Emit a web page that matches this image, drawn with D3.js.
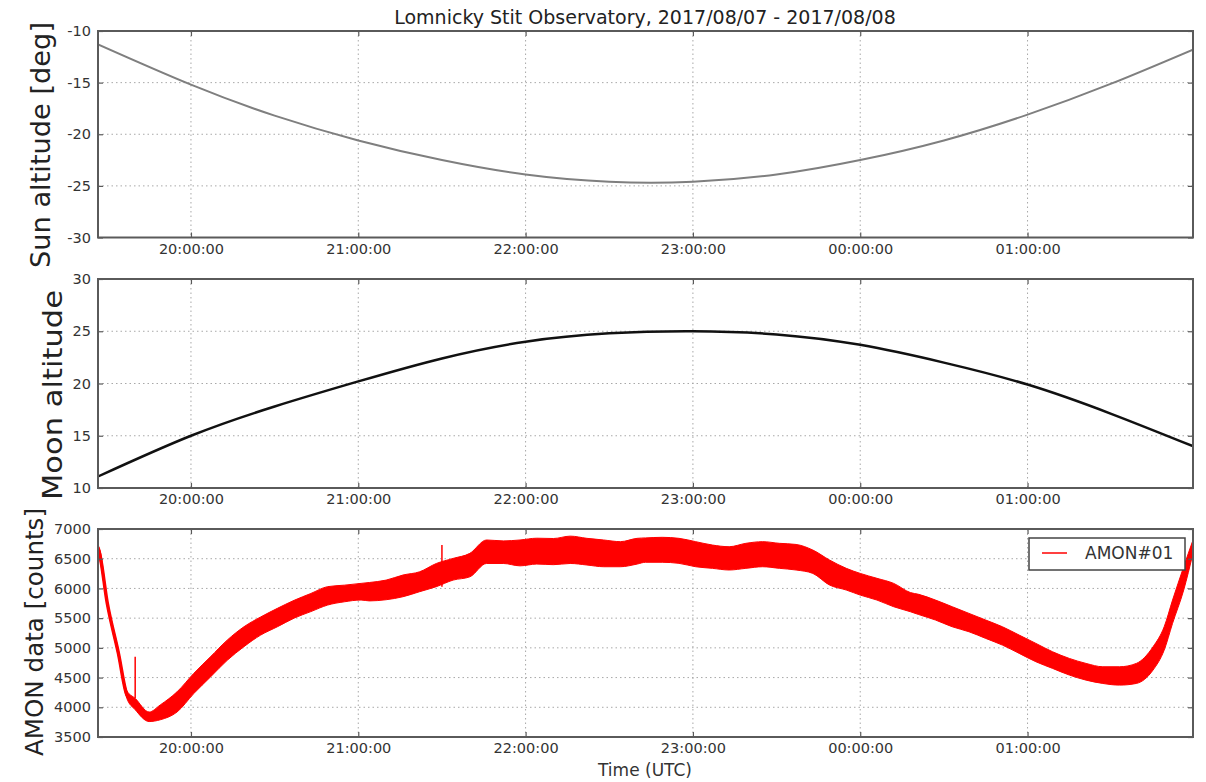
<!DOCTYPE html>
<html>
<head>
<meta charset="utf-8">
<script src="https://cdn.jsdelivr.net/npm/d3@7"></script>
<style>
    body { margin: 0; background: #fff; }
    text { font-family: "DejaVu Sans", sans-serif; }
</style>
</head>
<body>
<div id="chart"></div>
<script>
// time window of the night (UTC), hours < 12 belong to 2017/08/08
var startTime = "19:26:40", endTime = "01:59:20";

// sun and moon altitude
var ephTime = ["19:26:40", "20:00", "20:30", "21:00", "21:30", "22:00", "22:30", "23:00",
               "23:30", "00:00", "00:30", "01:00", "01:30", "01:59:20"];
var sunAlt  = [-11.3, -15.2, -18.2, -20.6, -22.5, -23.9, -24.6, -24.6, -23.9, -22.5, -20.6, -18.1, -15.1, -11.8];
var moonAlt = [11.1, 15.0, 17.8, 20.2, 22.4, 24.0, 24.8, 25.0, 24.7, 23.7, 22.0, 19.9, 17.1, 14.0];

// AMON#01 counts: lower / upper edge of the noisy band
var amonTime = ["19:26:40", "19:27", "19:30", "19:34", "19:37", "19:40", "19:45", "19:49", "19:55",
                "20:01", "20:07", "20:13", "20:19", "20:25", "20:31", "20:37", "20:43", "20:49", "20:55",
                "21:01", "21:04", "21:10", "21:16", "21:22", "21:28", "21:34", "21:40", "21:46", "21:52",
                "21:58", "22:04", "22:10", "22:16", "22:22", "22:28", "22:34", "22:40", "22:43", "22:49",
                "22:55", "23:01", "23:07", "23:13", "23:19", "23:25", "23:31", "23:37", "23:43", "23:49",
                "23:55", "00:00", "00:06", "00:12", "00:18", "00:21", "00:27", "00:33", "00:39", "00:45",
                "00:51", "00:57", "01:03", "01:09", "01:15", "01:21", "01:27", "01:33", "01:39", "01:45",
                "01:49", "01:52", "01:56", "01:59:20"];
var amonLow  = [6600, 6550, 5700, 4850, 4150, 3960, 3760, 3790, 3920,
                4230, 4510, 4790, 5020, 5215, 5355, 5500, 5610, 5720, 5775,
                5805, 5790, 5810, 5860, 5945, 6030, 6140, 6195, 6420, 6420,
                6380, 6410, 6400, 6420, 6394, 6365, 6365, 6410, 6440, 6440,
                6422, 6365, 6338, 6310, 6338, 6365, 6338, 6310, 6253, 6057,
                5973, 5888, 5804, 5692, 5608, 5560, 5468, 5355, 5271, 5159,
                5046, 4907, 4766, 4654, 4542, 4457, 4401, 4373, 4401, 4626,
                4962, 5412, 5973, 6591];
var amonHigh = [6720, 6700, 5800, 4960, 4280, 4150, 3920, 4040, 4260,
                4570, 4850, 5130, 5355, 5520, 5665, 5800, 5915, 6030, 6055,
                6085, 6100, 6140, 6225, 6280, 6420, 6505, 6590, 6815, 6800,
                6815, 6845, 6840, 6880, 6843, 6815, 6787, 6843, 6850, 6860,
                6843, 6787, 6730, 6702, 6759, 6787, 6759, 6740, 6646, 6478,
                6338, 6253, 6170, 6085, 5930, 5900, 5804, 5692, 5580, 5468,
                5355, 5215, 5075, 4934, 4822, 4738, 4682, 4682, 4738, 5018,
                5355, 5804, 6365, 6815];
// single outliers sticking out of the band
var spikeTime  = ["19:40", "21:30"];
var spikeValue = [4850, 6730];

var sunTicks  = [-30, -25, -20, -15, -10];
var moonTicks = [10, 15, 20, 25, 30];
var amonTicks = [3500, 4000, 4500, 5000, 5500, 6000, 6500, 7000];

var width = 1206, height = 782;
var plotLeft = 98, plotRight = 1193;

function parseT(s) {
    var p = s.split(":"), h = +p[0];
    var day = h < 12 ? 8 : 7;
    return new Date(Date.UTC(2017, 7, day, h, +p[1], +(p[2] || 0)));
}

var svg = d3.select("#chart")
    .append("svg")
    .attr("width", width)
    .attr("height", height);

var x = d3.scaleUtc()
    .domain([parseT(startTime), parseT(endTime)])
    .range([plotLeft, plotRight]);

var hourTicks = x.ticks(d3.utcHour.every(1));
var fmtTime = d3.utcFormat("%H:%M:%S");

// one panel: frame, grid, ticks on all four sides
function panel(id, top, bottom, domain, ticks) {
    var y = d3.scaleLinear().domain(domain).range([bottom, top]);
    var g = svg.append("g").attr("class", "panel-" + id);

    g.append("clipPath").attr("id", "clip-" + id)
        .append("rect")
        .attr("x", plotLeft).attr("y", top)
        .attr("width", plotRight - plotLeft).attr("height", bottom - top);

    var grid = g.append("g").attr("class", "grid")
        .attr("stroke", "#a8a8a8").attr("stroke-width", 1).attr("stroke-dasharray", "1.5,3");
    grid.selectAll(".gx").data(hourTicks).enter().append("line")
        .attr("x1", function(d) { return x(d); }).attr("x2", function(d) { return x(d); })
        .attr("y1", top).attr("y2", bottom);
    grid.selectAll(".gy").data(ticks).enter().append("line")
        .attr("x1", plotLeft).attr("x2", plotRight)
        .attr("y1", function(d) { return y(d); }).attr("y2", function(d) { return y(d); });

    var plot = g.append("g").attr("clip-path", "url(#clip-" + id + ")");

    var frame = g.append("g");
    frame.append("rect")
        .attr("x", plotLeft).attr("y", top)
        .attr("width", plotRight - plotLeft).attr("height", bottom - top)
        .attr("fill", "none").attr("stroke", "#5a5a5a").attr("stroke-width", 2);

    frame.append("g")
        .attr("transform", "translate(0," + bottom + ")")
        .call(d3.axisBottom(x).tickValues(hourTicks).tickFormat(fmtTime)
            .tickSizeInner(-5).tickSizeOuter(0).tickPadding(6));
    frame.append("g")
        .attr("transform", "translate(0," + top + ")")
        .call(d3.axisTop(x).tickValues(hourTicks).tickFormat("")
            .tickSizeInner(-5).tickSizeOuter(0));
    frame.append("g")
        .attr("transform", "translate(" + plotLeft + ",0)")
        .call(d3.axisLeft(y).tickValues(ticks).tickFormat(function(d) { return String(d); })
            .tickSizeInner(-5).tickSizeOuter(0).tickPadding(7));
    frame.append("g")
        .attr("transform", "translate(" + plotRight + ",0)")
        .call(d3.axisRight(y).tickValues(ticks).tickFormat("")
            .tickSizeInner(-5).tickSizeOuter(0));

    frame.selectAll(".domain").remove();
    frame.selectAll(".tick line").attr("stroke", "#5a5a5a").attr("stroke-width", 1.2);
    frame.selectAll(".tick text")
        .attr("fill", "#333")
        .style("font-family", "DejaVu Sans")
        .style("font-size", "14.5px");

    return {y: y, plot: plot};
}

function yLabel(text, cx, cy, size, len) {
    svg.append("text")
        .attr("transform", "translate(" + cx + "," + cy + ") rotate(-90)")
        .attr("text-anchor", "middle")
        .attr("textLength", len)
        .attr("lengthAdjust", "spacingAndGlyphs")
        .style("font-size", size + "px")
        .attr("fill", "#222")
        .text(text);
}

var eph = ephTime.map(function(t, i) {
    return {t: parseT(t), sun: sunAlt[i], moon: moonAlt[i]};
});

// --- Sun altitude
var sunP = panel("sun", 31, 237.5, [-30, -10], sunTicks);
sunP.plot.append("path")
    .datum(eph)
    .attr("fill", "none")
    .attr("stroke", "#7f7f7f")
    .attr("stroke-width", 2)
    .attr("d", d3.line()
        .x(function(d) { return x(d.t); })
        .y(function(d) { return sunP.y(d.sun); })
        .curve(d3.curveNatural));

// --- Moon altitude
var moonP = panel("moon", 279, 488, [10, 30], moonTicks);
moonP.plot.append("path")
    .datum(eph)
    .attr("fill", "none")
    .attr("stroke", "#111")
    .attr("stroke-width", 2.5)
    .attr("d", d3.line()
        .x(function(d) { return x(d.t); })
        .y(function(d) { return moonP.y(d.moon); })
        .curve(d3.curveNatural));

// --- AMON counts
var amon = amonTime.map(function(t, i) {
    return {t: parseT(t), lo: amonLow[i], hi: amonHigh[i]};
});
var amonP = panel("amon", 529, 737, [3500, 7000], amonTicks);

amonP.plot.append("path")
    .datum(amon)
    .attr("fill", "#ff0000")
    .attr("stroke", "#ff0000")
    .attr("stroke-width", 1)
    .attr("d", d3.area()
        .x(function(d) { return x(d.t); })
        .y0(function(d) { return amonP.y(d.lo); })
        .y1(function(d) { return amonP.y(d.hi); })
        .curve(d3.curveMonotoneX));

amonP.plot.append("path")
    .datum(amon)
    .attr("fill", "none")
    .attr("stroke", "#ff0000")
    .attr("stroke-width", 3.5)
    .attr("d", d3.line()
        .x(function(d) { return x(d.t); })
        .y(function(d) { return amonP.y((d.lo + d.hi) / 2); })
        .curve(d3.curveMonotoneX));

amonP.plot.selectAll(".spike")
    .data(spikeTime)
    .enter()
    .append("line")
    .attr("class", "spike")
    .attr("x1", function(d) { return x(parseT(d)); })
    .attr("x2", function(d) { return x(parseT(d)); })
    .attr("y1", function(d, i) { return amonP.y(spikeValue[i] - 700); })
    .attr("y2", function(d, i) { return amonP.y(spikeValue[i]); })
    .attr("stroke", "#ff0000")
    .attr("stroke-width", 1.5);

// legend
var legend = svg.append("g").attr("class", "legend");
legend.append("rect")
    .attr("x", 1029).attr("y", 538).attr("width", 156).attr("height", 32)
    .attr("fill", "#fff").attr("stroke", "#444").attr("stroke-width", 1.5);
legend.append("line")
    .attr("x1", 1042).attr("x2", 1067).attr("y1", 553).attr("y2", 553)
    .attr("stroke", "#ff0000").attr("stroke-width", 1.5);
legend.append("text")
    .attr("x", 1085).attr("y", 559)
    .style("font-size", "17px")
    .attr("fill", "#333")
    .text("AMON#01");

// titles
svg.append("text")
    .attr("x", 645).attr("y", 24)
    .attr("text-anchor", "middle")
    .style("font-size", "19px")
    .attr("fill", "#222")
    .text("Lomnicky Stit Observatory, 2017/08/07 - 2017/08/08");

svg.append("text")
    .attr("x", 645).attr("y", 776)
    .attr("text-anchor", "middle")
    .style("font-size", "17px")
    .attr("fill", "#333")
    .text("Time (UTC)");

yLabel("Sun altitude [deg]", 50, 145, 26, 246);
yLabel("Moon altitude", 62, 395, 27, 210);
yLabel("AMON data [counts]", 43, 632, 24, 248);
</script>
</body>
</html>
